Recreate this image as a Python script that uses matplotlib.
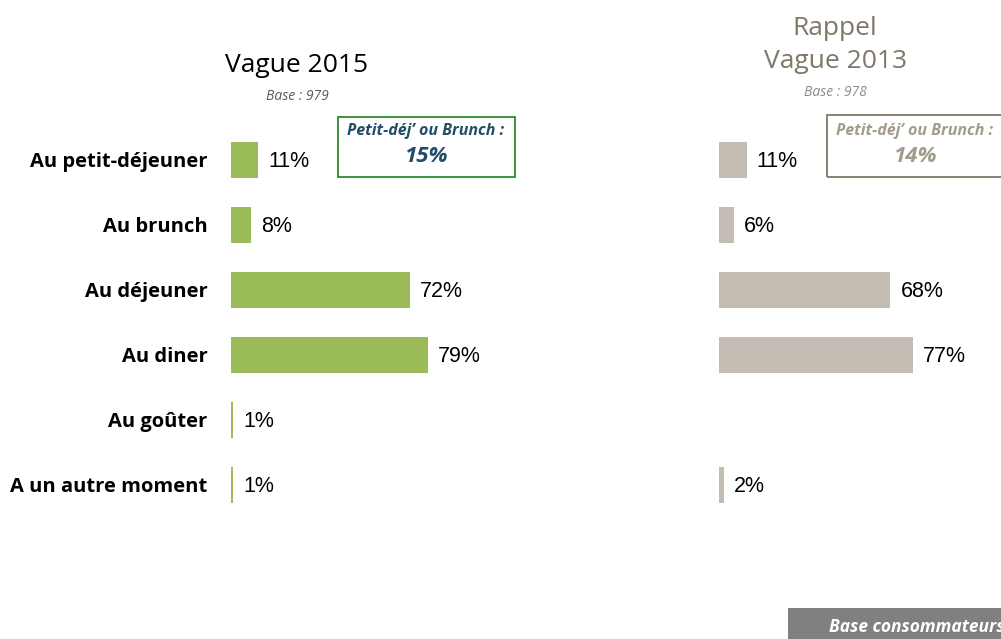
import matplotlib.pyplot as plt
from matplotlib.patches import Rectangle

# Data
categories = ['Au petit-déjeuner', 'Au brunch', 'Au déjeuner', 'Au diner',
              'Au goûter', 'A un autre moment']
vague_2015 = [11, 8, 72, 79, 1, 1]
vague_2013 = [11, 6, 68, 77, None, 2]
base_2015 = 979
base_2013 = 978
brunch_2015 = 15
brunch_2013 = 14

W, H = 1001, 639
fig = plt.figure(figsize=(W / 100, H / 100), dpi=100)
fig.patch.set_facecolor('white')

green = '#9BBB59'
beige = '#C4BDB3'
brown = '#7F7767'


def px_axes(x0, y_top, width, height):
    # axes placed in pixel coordinates (top-left origin)
    return fig.add_axes([x0 / W, 1 - (y_top + height) / H, width / W, height / H])


def draw_bars(ax, values, color):
    ys = list(range(len(values)))
    for y, v in zip(ys, values):
        if v is None:
            continue
        ax.barh(y, v, height=0.55, color=color, edgecolor='none')
        ax.text(v + 4, y + 0.03, f'{v}%', va='center', ha='left', fontsize=15.5,
                family='Liberation Sans', color='black')
    ax.set_xlim(0, 100)
    ax.set_ylim(len(values) - 0.5, -0.5)
    ax.axis('off')


# left panel (2015)
ax1 = px_axes(231, 127.5, 249, 390)
draw_bars(ax1, vague_2015, green)
for i, cat in enumerate(categories):
    ax1.text(-0.095, i + 0.03, cat, transform=ax1.get_yaxis_transform(), ha='right',
             va='center', fontsize=14.5, fontweight='bold', family='Open Sans')

# right panel (2013)
ax2 = px_axes(719, 127.5, 252, 390)
draw_bars(ax2, vague_2013, beige)

# titles
fig.text(297 / W, 1 - 66 / H, 'Vague 2015', ha='center', va='center',
         fontsize=19, family='Open Sans', color='black')
fig.text(297 / W, 1 - 96 / H, f'Base : {base_2015}', ha='center', va='center',
         fontsize=10, style='italic', family='Open Sans', color='#595959')
fig.text(835 / W, 1 - 45 / H, 'Rappel\nVague 2013', ha='center', va='center',
         fontsize=19, family='Open Sans', color=brown, linespacing=1.4)
fig.text(835 / W, 1 - 93 / H, f'Base : {base_2013}', ha='center', va='center',
         fontsize=10, style='italic', family='Open Sans', color='#8C8C8C')

# callout boxes
fig.patches.append(Rectangle((338 / W, 1 - 177 / H), 177 / W, 60 / H,
                             transform=fig.transFigure, fill=False,
                             edgecolor='#2E8B2E', linewidth=1.3))
fig.text(426 / W, 1 - 131 / H, 'Petit-déj’ ou Brunch :', ha='center', va='center',
         fontsize=11.5, style='italic', fontweight='bold', family='Open Sans',
         color='#1F4E66')
fig.text(426 / W, 1 - 157 / H, f'{brunch_2015}%', ha='center', va='center',
         fontsize=16, style='italic', fontweight='bold', family='Open Sans',
         color='#1F4E66')

fig.patches.append(Rectangle((827 / W, 1 - 177 / H), 200 / W, 62 / H,
                             transform=fig.transFigure, fill=False,
                             edgecolor=brown, linewidth=1.3))
fig.text(915 / W, 1 - 131 / H, 'Petit-déj’ ou Brunch :', ha='center', va='center',
         fontsize=11.5, style='italic', fontweight='bold', family='Open Sans',
         color='#A39B8B')
fig.text(915 / W, 1 - 157 / H, f'{brunch_2013}%', ha='center', va='center',
         fontsize=16, style='italic', fontweight='bold', family='Open Sans',
         color='#A39B8B')

# footer band
fig.patches.append(Rectangle((788 / W, 0), 230 / W, 31 / H,
                             transform=fig.transFigure, facecolor='#808080',
                             edgecolor='none'))
fig.text(829 / W, 1 - 627 / H, 'Base consommateurs', ha='left', va='center',
         fontsize=12.5, style='italic', fontweight='bold', family='Open Sans',
         color='white')

fig.savefig('out.png', dpi=100, facecolor='white')
